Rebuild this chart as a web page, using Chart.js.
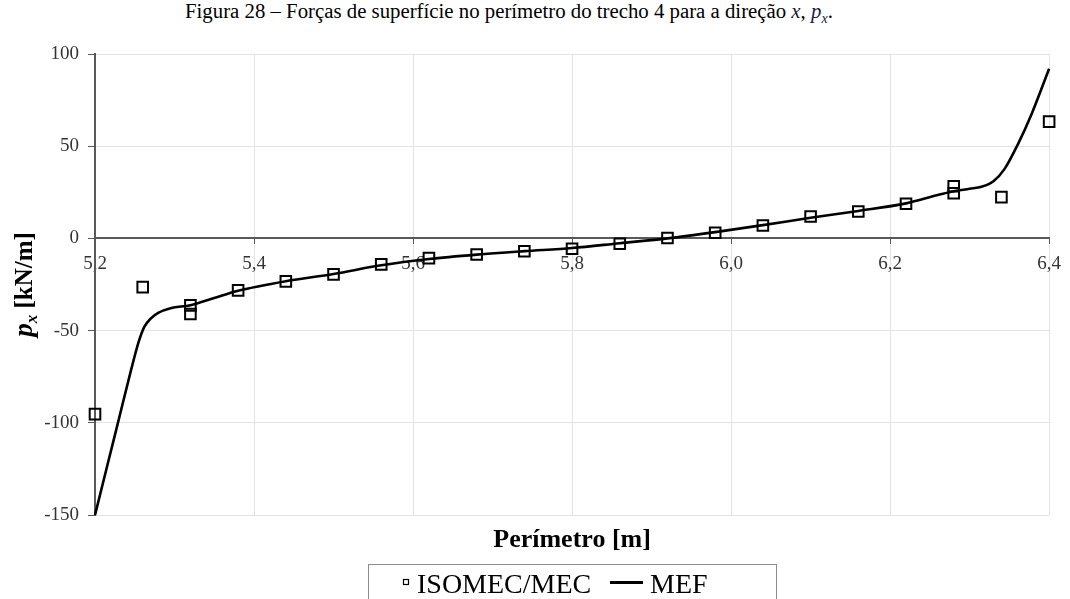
<!DOCTYPE html>
<html>
<head>
<meta charset="utf-8">
<script src="https://cdn.jsdelivr.net/npm/chart.js@4.4.1/dist/chart.umd.min.js"></script>
<style>
body{margin:0;background:#fff;width:1070px;height:599px;overflow:hidden;position:relative;font-family:"Liberation Serif",serif}
#grafico{position:absolute;left:0;top:0}
#titulo{position:absolute;top:-1px;left:185px;font-size:20.8px;line-height:24px;color:#000;white-space:nowrap}
#titulo .mat{font-style:italic;color:#1a1a3a}
</style>
</head>
<body>
<div id="titulo">Figura 28 – Forças de superfície no perímetro do trecho 4 para a direção <span class="mat">x</span>, <span class="mat">p<sub style="font-size:14px">x</sub></span>.</div>
<canvas id="grafico" width="1070" height="599"></canvas>
<script>
// ISOMEC/MEC (pontos)
const perimetroIso = [5.2, 5.26, 5.32, 5.32, 5.38, 5.44, 5.5, 5.56, 5.62, 5.68, 5.74, 5.8, 5.86, 5.92, 5.98, 6.04, 6.1, 6.16, 6.22, 6.28, 6.28, 6.34, 6.4];
const pxIso = [-95.3, -26.4, -36.3, -41.0, -28.2, -23.3, -19.5, -14.1, -10.7, -8.7, -7.0, -5.6, -2.9, 0.2, 3.1, 7.0, 11.9, 14.6, 18.8, 28.3, 24.5, 22.4, 63.3];

// MEF (curva)
const perimetroMef = [5.2, 5.215, 5.23, 5.245, 5.255, 5.262, 5.27, 5.28, 5.295, 5.32, 5.35, 5.38, 5.44, 5.5, 5.56, 5.62, 5.68, 5.74, 5.8, 5.86, 5.92, 5.98, 6.04, 6.1, 6.16, 6.22, 6.26, 6.28, 6.3, 6.315, 6.33, 6.344, 6.361, 6.378, 6.4];
const pxMef = [-150, -124, -98, -72, -56, -48, -43.5, -40.3, -37.9, -36.2, -32.3, -28.4, -23.2, -19.3, -14.6, -11.2, -8.8, -6.9, -5.2, -2.6, 0, 3.4, 7.2, 11.2, 14.9, 19.0, 23.5, 25.6, 26.9, 28.0, 31.0, 37.7, 51.3, 67.5, 92];

const xMin = 5.2, xMax = 6.4, xPasso = 0.2;
const yMin = -150, yMax = 100, yPasso = 50;

const corEixo = '#595959';
const corGrade = '#e3e3e3';
const corTexto = '#333';
const fonteSerifa = '"Liberation Serif", "Times New Roman", serif';

Chart.defaults.font.family = fonteSerifa;

const textosExtras = {
    id: 'textosExtras',
    afterDraw(chart) {
        const ctx = chart.ctx;
        const area = chart.chartArea;
        ctx.save();
        ctx.fillStyle = '#000';

        // titulo do eixo y: p_x [kN/m]
        ctx.save();
        ctx.translate(32, (area.top + area.bottom) / 2);
        ctx.rotate(-Math.PI / 2);
        ctx.textBaseline = 'alphabetic';
        const fP = 'italic bold 27px ' + fonteSerifa;
        const fSub = 'italic bold 17px ' + fonteSerifa;
        const fResto = 'bold 25px ' + fonteSerifa;
        ctx.font = fP; const wP = ctx.measureText('p').width;
        ctx.font = fSub; const wSub = ctx.measureText('x').width;
        ctx.font = fResto; const wResto = ctx.measureText(' [kN/m]').width;
        let x0 = -(wP + wSub + wResto) / 2;
        ctx.font = fP; ctx.fillText('p', x0, 0); x0 += wP;
        ctx.font = fSub; ctx.fillText('x', x0, 5); x0 += wSub;
        ctx.font = fResto; ctx.fillText(' [kN/m]', x0, 0);
        ctx.restore();

        // titulo do eixo x
        ctx.font = 'bold 26px ' + fonteSerifa;
        ctx.textAlign = 'center';
        ctx.fillText('Perímetro [m]', (area.left + area.right) / 2, 547);

        // legenda
        ctx.strokeStyle = '#8c8c8c';
        ctx.lineWidth = 1;
        ctx.strokeRect(368.5, 564.5, 408, 50);
        ctx.strokeStyle = '#000';
        ctx.lineWidth = 1.2;
        ctx.strokeRect(403.5, 579.5, 5, 5);
        ctx.lineWidth = 3;
        ctx.beginPath();
        ctx.moveTo(610, 582.5);
        ctx.lineTo(643, 582.5);
        ctx.stroke();
        ctx.font = '28px ' + fonteSerifa;
        ctx.textAlign = 'left';
        ctx.fillText('ISOMEC/MEC', 417, 592.5);
        ctx.fillText('MEF', 650, 592.5);
        ctx.restore();
    }
};

const ctx = document.getElementById('grafico');
new Chart(ctx, {
    type: 'scatter',
    data: {
        datasets: [{
            label: 'ISOMEC/MEC',
            data: perimetroIso.map((p, i) => ({ x: p, y: pxIso[i] })),
            pointStyle: 'rect',
            pointRadius: 7.5,
            pointBorderWidth: 2,
            pointBorderColor: '#000',
            pointBackgroundColor: 'rgba(0,0,0,0)',
            showLine: false,
            clip: false
        }, {
            label: 'MEF',
            data: perimetroMef.map((p, i) => ({ x: p, y: pxMef[i] })),
            showLine: true,
            borderColor: '#000',
            borderWidth: 2.6,
            pointRadius: 0,
            cubicInterpolationMode: 'monotone',
            clip: false
        }]
    },
    options: {
        responsive: false,
        animation: false,
        layout: { padding: { left: 0, right: 19, top: 54, bottom: 84 } },
        plugins: {
            legend: { display: false },
            tooltip: { enabled: false }
        },
        scales: {
            x: {
                type: 'linear',
                position: { y: 0 },
                min: xMin,
                max: xMax,
                ticks: {
                    stepSize: xPasso,
                    padding: 9,
                    color: corTexto,
                    font: { family: fonteSerifa, size: 19 },
                    callback: v => v.toFixed(1).replace('.', ',')
                },
                grid: { color: corGrade, tickColor: corEixo, tickLength: 5 },
                border: { color: corEixo, width: 2 }
            },
            y: {
                min: yMin,
                max: yMax,
                ticks: {
                    stepSize: yPasso,
                    padding: 9,
                    color: corTexto,
                    font: { family: fonteSerifa, size: 19 }
                },
                grid: { color: corGrade, tickColor: corEixo, tickLength: 7 },
                border: { color: corEixo, width: 2 },
                afterFit(escala) { escala.width = 95; }
            }
        }
    },
    plugins: [textosExtras]
});
</script>
</body>
</html>
